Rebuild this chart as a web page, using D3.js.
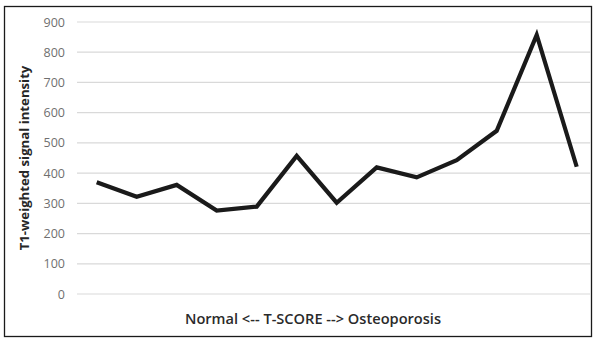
<!DOCTYPE html>
<html>
<head>
<meta charset="utf-8">
<script src="https://cdn.jsdelivr.net/npm/d3@7"></script>
<style>
  html, body { margin: 0; padding: 0; background: #fff; }
  svg { display: block; }
</style>
</head>
<body>
<svg id="chart" width="597" height="345"></svg>
<script>
// T1-weighted signal intensity ordered from normal to osteoporotic T-score
const categories = ["1","2","3","4","5","6","7","8","9","10","11","12","13"];
const signalValues = [370, 322, 361, 276, 289, 457, 302, 419, 386, 443, 540, 857, 421];
const yTicks = [0, 100, 200, 300, 400, 500, 600, 700, 800, 900];
const yTitle = "T1-weighted signal intensity";
const xTitle = "Normal <-- T-SCORE --> Osteoporosis";

const svg = d3.select("#chart");

// outer frame
svg.append("rect")
  .attr("x", 4.5).attr("y", 6.5)
  .attr("width", 587).attr("height", 330)
  .attr("fill", "#fff")
  .attr("stroke", "#1a1a1a").attr("stroke-width", 1.3);

const plotLeft = 77, plotRight = 591;
const x = d3.scaleBand().domain(categories).range([76.7, 596.7]);
const y = d3.scaleLinear().domain([0, 900]).range([294, 22]);

// horizontal gridlines
svg.append("g").selectAll("line")
  .data(yTicks).join("line")
  .attr("x1", plotLeft).attr("x2", plotRight)
  .attr("y1", d => y(d)).attr("y2", d => y(d))
  .attr("stroke", "#d9d9d9").attr("stroke-width", 1.2);

// y axis labels
const yAxis = d3.axisLeft(y).tickValues(yTicks).tickSize(0).tickPadding(0);
const gy = svg.append("g").attr("transform", "translate(65,0)").call(yAxis);
gy.select(".domain").remove();
gy.selectAll("text")
  .attr("font-family", "'Open Sans', sans-serif")
  .attr("font-size", 12.5)
  .attr("fill", "#6f6f6f");

// data line
const line = d3.line()
  .x((d, i) => x(categories[i]) + x.bandwidth() / 2)
  .y(d => y(d));

svg.append("path")
  .datum(signalValues)
  .attr("d", line)
  .attr("fill", "none")
  .attr("stroke", "#1a1a1a")
  .attr("stroke-width", 4.2)
  .attr("stroke-linejoin", "miter")
  .attr("stroke-linecap", "butt");

// axis titles
svg.append("text")
  .attr("transform", "translate(29,158) rotate(-90)")
  .attr("text-anchor", "middle")
  .attr("font-family", "'Open Sans', sans-serif")
  .attr("font-size", 13.2)
  .attr("font-weight", 700)
  .attr("fill", "#262626")
  .text(yTitle);

svg.append("text")
  .attr("x", 313).attr("y", 324)
  .attr("text-anchor", "middle")
  .attr("font-family", "'Open Sans', sans-serif")
  .attr("font-size", 14.6)
  .attr("font-weight", 600)
  .attr("fill", "#2a2a2a")
  .text(xTitle);
</script>
</body>
</html>
